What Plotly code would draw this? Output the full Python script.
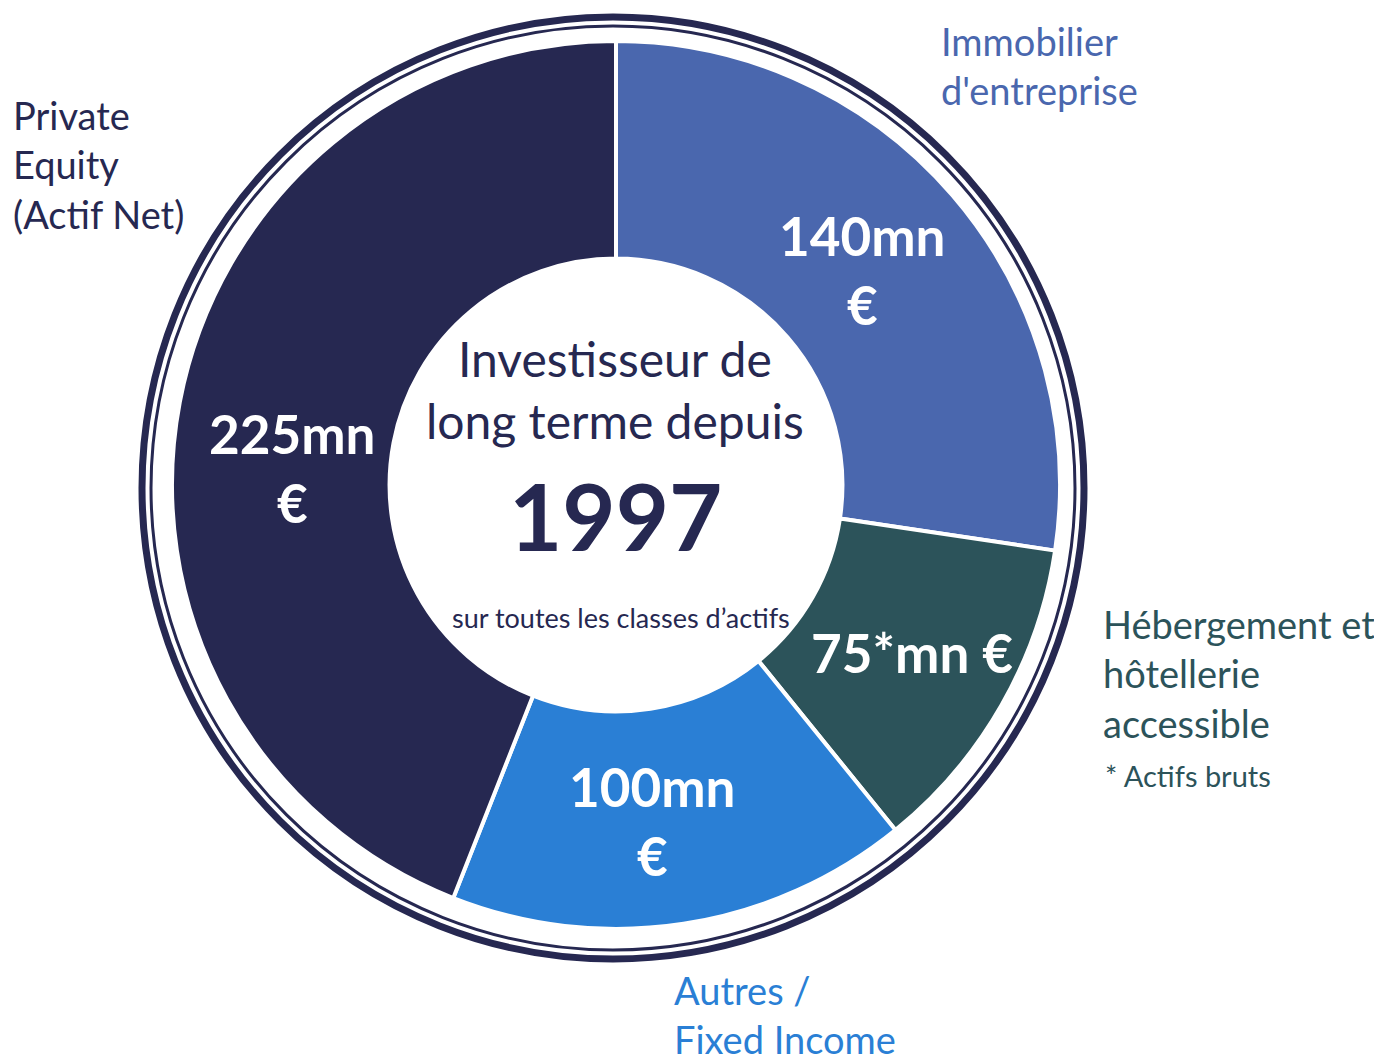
import plotly.graph_objects as go

# page body has an 8px margin, so the figure is drawn 8px in from the top-left
OFF = 8
W, H = 1382 - OFF, 1058 - OFF

# slices clockwise from 12 o'clock (sizes, degrees)
categories = ["Immobilier d'entreprise", "Hébergement et hôtellerie accessible",
              "Autres / Fixed Income", "Private Equity (Actif Net)"]
slice_sizes = [98.5, 42.5, 60.5, 158.5]
slice_labels = ["140mn<br>€", "75*mn €", "100mn<br>€", "225mn<br>€"]
colors = ["#4A67AE", "#2C535A", "#2A7FD5", "#262851"]

navy = "#262851"
font = "Lato"


def px(x):
    return (x - OFF) / W


def py(y):
    return 1 - (y - OFF) / H


cx, cy, r = 616, 485, 444

fig = go.Figure()
fig.add_trace(go.Pie(
    labels=categories,
    values=slice_sizes,
    textinfo="none",
    marker=dict(colors=colors, line=dict(color="white", width=4)),
    hole=0.51,
    sort=False,
    direction="clockwise",
    rotation=0,
    showlegend=False,
    hoverinfo="label",
    domain=dict(x=[px(cx - r), px(cx + r)], y=[py(cy + r), py(cy - r)]),
))

# double ring around the donut
for rr, lw in [(471, 7), (462, 3)]:
    fig.add_shape(type="circle", xref="paper", yref="paper",
                  x0=px(613 - rr), x1=px(613 + rr), y0=py(488 + rr), y1=py(488 - rr),
                  line=dict(color=navy, width=lw))

# values written inside the slices
label_pos = [(862, 270), (912, 652), (652, 821), (292, 468)]
for txt, (x, y) in zip(slice_labels, label_pos):
    fig.add_annotation(text="<b>" + txt + "</b>", x=px(x), y=py(y), xref="paper", yref="paper",
                       xanchor="center", yanchor="middle", align="center", showarrow=False,
                       font=dict(family=font, size=53, color="white"))

# outer category labels
outer = [
    ("Immobilier<br>d'entreprise", 939, 66, colors[0]),
    ("Hébergement et<br>hôtellerie<br>accessible", 1101, 674, colors[1]),
    ("Autres /<br>Fixed Income", 672, 1014, colors[2]),
    ("Private<br>Equity<br>(Actif Net)", 11, 164, colors[3]),
]
for txt, x, y, c in outer:
    fig.add_annotation(text=txt, x=px(x), y=py(y), xref="paper", yref="paper",
                       xanchor="left", yanchor="middle", align="left", showarrow=False,
                       font=dict(family=font, size=38, color=c))
fig.add_annotation(text="* Actifs bruts", x=px(1103), y=py(775), xref="paper", yref="paper",
                   xanchor="left", yanchor="middle", showarrow=False,
                   font=dict(family=font, size=29, color=colors[1]))

# centre text
fig.add_annotation(text="Investisseur de<br>long terme depuis", x=px(615), y=py(389),
                   xref="paper", yref="paper", showarrow=False, yanchor="middle",
                   font=dict(family=font, size=48, color=navy))
fig.add_annotation(text="<b>1997</b>", x=px(615), y=py(515),
                   xref="paper", yref="paper", showarrow=False, yanchor="middle",
                   font=dict(family=font, size=92, color=navy))
fig.add_annotation(text="sur toutes les classes d’actifs", x=px(621), y=py(617),
                   xref="paper", yref="paper", showarrow=False, yanchor="middle",
                   font=dict(family=font, size=27, color=navy))

fig.update_layout(
    width=W, height=H,
    margin=dict(l=0, r=0, t=0, b=0),
    paper_bgcolor="white", plot_bgcolor="white",
)

fig.write_html("out.html")
